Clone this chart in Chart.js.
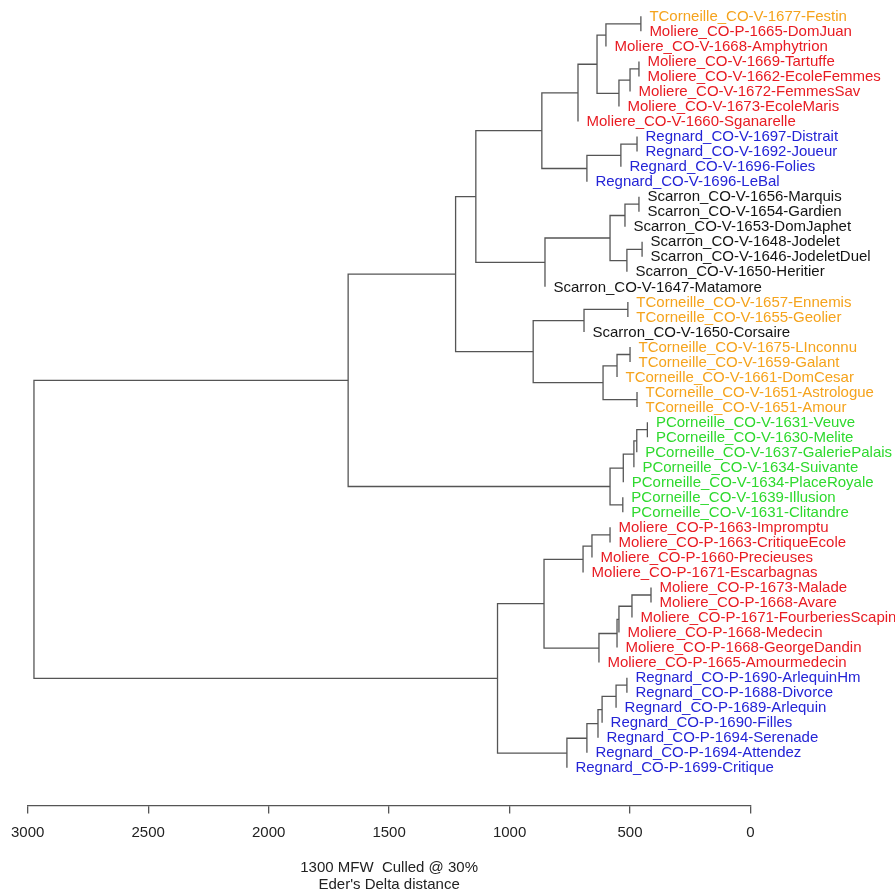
<!DOCTYPE html>
<html>
<head>
<meta charset="utf-8">
<script src="https://cdn.jsdelivr.net/npm/chart.js@4.4.1/dist/chart.umd.min.js"></script>
<style>
html,body{margin:0;padding:0;background:#fff;}
#wrap{width:895px;height:893px;position:relative;}
</style>
</head>
<body>
<div id="wrap"><canvas id="c"></canvas></div>
<script>
// ---- DATA ----
const leaves = [
  "TCorneille_CO-V-1677-Festin","Moliere_CO-P-1665-DomJuan","Moliere_CO-V-1668-Amphytrion",
  "Moliere_CO-V-1669-Tartuffe","Moliere_CO-V-1662-EcoleFemmes","Moliere_CO-V-1672-FemmesSav",
  "Moliere_CO-V-1673-EcoleMaris","Moliere_CO-V-1660-Sganarelle","Regnard_CO-V-1697-Distrait",
  "Regnard_CO-V-1692-Joueur","Regnard_CO-V-1696-Folies","Regnard_CO-V-1696-LeBal",
  "Scarron_CO-V-1656-Marquis","Scarron_CO-V-1654-Gardien","Scarron_CO-V-1653-DomJaphet",
  "Scarron_CO-V-1648-Jodelet","Scarron_CO-V-1646-JodeletDuel","Scarron_CO-V-1650-Heritier",
  "Scarron_CO-V-1647-Matamore","TCorneille_CO-V-1657-Ennemis","TCorneille_CO-V-1655-Geolier",
  "Scarron_CO-V-1650-Corsaire","TCorneille_CO-V-1675-LInconnu","TCorneille_CO-V-1659-Galant",
  "TCorneille_CO-V-1661-DomCesar","TCorneille_CO-V-1651-Astrologue","TCorneille_CO-V-1651-Amour",
  "PCorneille_CO-V-1631-Veuve","PCorneille_CO-V-1630-Melite","PCorneille_CO-V-1637-GaleriePalais",
  "PCorneille_CO-V-1634-Suivante","PCorneille_CO-V-1634-PlaceRoyale","PCorneille_CO-V-1639-Illusion",
  "PCorneille_CO-V-1631-Clitandre","Moliere_CO-P-1663-Impromptu","Moliere_CO-P-1663-CritiqueEcole",
  "Moliere_CO-P-1660-Precieuses","Moliere_CO-P-1671-Escarbagnas","Moliere_CO-P-1673-Malade",
  "Moliere_CO-P-1668-Avare","Moliere_CO-P-1671-FourberiesScapin","Moliere_CO-P-1668-Medecin",
  "Moliere_CO-P-1668-GeorgeDandin","Moliere_CO-P-1665-Amourmedecin","Regnard_CO-P-1690-ArlequinHm",
  "Regnard_CO-P-1688-Divorce","Regnard_CO-P-1689-Arlequin","Regnard_CO-P-1690-Filles",
  "Regnard_CO-P-1694-Serenade","Regnard_CO-P-1694-Attendez","Regnard_CO-P-1699-Critique"
];
// hclust-style merges: negative = leaf number (1-based), positive = earlier merge row (1-based)
const merges = [
  [-1,-2],[1,-3],[-4,-5],[3,-6],[4,-7],[2,5],[6,-8],
  [-9,-10],[8,-11],[9,-12],[7,10],
  [-13,-14],[12,-15],[-16,-17],[14,-18],[13,15],[16,-19],[11,17],
  [-20,-21],[19,-22],[-23,-24],[21,-25],[-26,-27],[22,23],[20,24],[18,25],
  [-28,-29],[27,-30],[28,-31],[29,-32],[-33,-34],[30,31],[26,32],
  [-35,-36],[34,-37],[35,-38],[-39,-40],[37,-41],[38,-42],[39,-43],[40,-44],[36,41],
  [-45,-46],[43,-47],[44,-48],[45,-49],[46,-50],[47,-51],[42,48],[33,49]
];
// merge heights (Eder's Delta distance)
const mergeHeights = [
  455,600,463,500,546,637,716,
  471,538,679,866,
  463,521,450,513,583,853,1140,
  509,691,500,554,471,612,902,1224,
  428,472,484,528,530,583,1670,
  583,658,695,413,492,546,554,629,857,
  513,558,616,633,679,762,1050,2974
];
const xTicks = [3000,2500,2000,1500,1000,500,0];
const axisTitle = ["1300 MFW  Culled @ 30%", "Eder's Delta distance"];

// ---- STYLE ----
const authorColors = {
  TCorneille: "#f5a31c",
  Moliere: "#e81b22",
  Regnard: "#2424d6",
  Scarron: "#141414",
  PCorneille: "#2ed92e"
};
const lineColor = "#555555";
const FONT = "'Liberation Sans', Arial, Helvetica, sans-serif";

// ---- LAYOUT FROM DATA ----
const nodeY = [];
const leafParentH = new Array(leaves.length).fill(0);
function cY(c){ return c < 0 ? (-c - 1) : nodeY[c - 1]; }
function cH(c, ph){ return c < 0 ? ph : mergeHeights[c - 1]; }
merges.forEach((m, i) => {
  nodeY[i] = (cY(m[0]) + cY(m[1])) / 2;
  m.forEach(c => { if (c < 0) leafParentH[-c - 1] = mergeHeights[i]; });
});
const datasets = merges.map((m, i) => {
  const h = mergeHeights[i];
  const [a, b] = m;
  return {
    data: [
      {x: cH(a, h), y: cY(a)}, {x: h, y: cY(a)},
      {x: h, y: cY(b)}, {x: cH(b, h), y: cY(b)}
    ],
    showLine: true, borderColor: lineColor, borderWidth: 1.3,
    pointRadius: 0, pointHoverRadius: 0, tension: 0, fill: false
  };
});

const labelPlugin = {
  id: 'leafLabels',
  afterDatasetsDraw(chart) {
    const ctx = chart.ctx, xs = chart.scales.x, ys = chart.scales.y;
    ctx.save();
    ctx.font = "15px " + FONT;
    ctx.textAlign = 'left';
    ctx.textBaseline = 'middle';
    leaves.forEach((name, i) => {
      const author = name.split('_')[0];
      ctx.fillStyle = authorColors[author] || '#000';
      ctx.fillText(name, xs.getPixelForValue(leafParentH[i]) + 8.5, ys.getPixelForValue(i) + 0.5);
    });
    ctx.restore();
  }
};

new Chart(document.getElementById('c'), {
  type: 'scatter',
  data: { datasets },
  plugins: [labelPlugin],
  options: {
    responsive: true,
    maintainAspectRatio: false,
    animation: false,
    events: [],
    layout: { padding: { left: 27.7, right: 144.5, top: 1.3, bottom: 0 } },
    plugins: { legend: { display: false }, tooltip: { enabled: false } },
    scales: {
      x: {
        type: 'linear', min: 0, max: 3000, reverse: true,
        afterBuildTicks: (s) => { s.ticks = xTicks.map(v => ({value: v})); },
        ticks: { color: '#222', font: { family: FONT, size: 15 }, padding: 10, maxRotation: 0, autoSkip: false,
                 callback: (v) => String(v) },
        grid: { drawOnChartArea: false, drawTicks: true, tickLength: 8, color: lineColor, lineWidth: 1.3 },
        border: { display: true, color: lineColor, width: 1.3 },
        title: { display: true, text: axisTitle, color: '#222', font: { family: FONT, size: 15, lineHeight: 1.12 }, padding: { top: 8, bottom: 0 } }
      },
      y: {
        type: 'linear', min: -1, max: 52.5, reverse: true, display: false
      }
    }
  }
});
</script>
</body>
</html>
